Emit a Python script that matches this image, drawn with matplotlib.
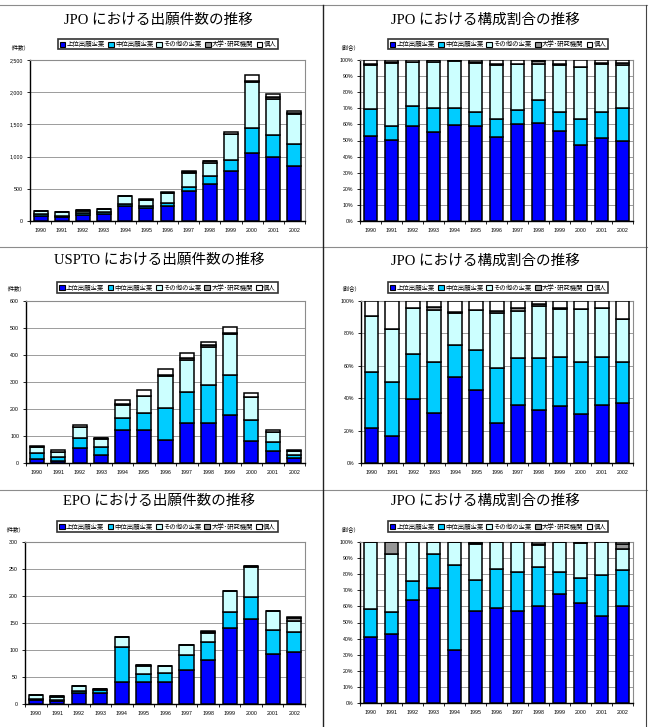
import matplotlib
matplotlib.use("Agg")
import matplotlib.pyplot as plt
import numpy as np
from matplotlib.patches import Patch
from matplotlib.lines import Line2D

plt.rcParams["font.family"] = ["Liberation Sans", "Noto Sans CJK JP"]

years = ["1990", "1991", "1992", "1993", "1994", "1995", "1996",
         "1997", "1998", "1999", "2000", "2001", "2002"]
series_names = ["上位出願企業", "中位出願企業", "その他の企業", "大学･研究機関", "個人"]
series_colors = ["#0000FF", "#00CCFF", "#CCFFFF", "#969696", "#FFFFFF"]

# JPO application counts
jpo_top = [85, 68, 98, 106, 228, 199, 233, 466, 568, 771, 1060, 1000, 850]
jpo_mid = [26, 12, 20, 28, 41, 29, 48, 68, 133, 171, 380, 335, 350]
jpo_other = [44, 53, 45, 56, 112, 101, 150, 216, 206, 405, 720, 555, 455]
jpo_univ = [1, 0, 1, 1, 1, 2, 2, 4, 17, 8, 12, 35, 25]
jpo_indiv = [4, 2, 2, 1, 1, 5, 12, 17, 8, 32, 95, 42, 33]

# JPO share (%)
jpo_top_pct = [53.0, 50.6, 59.0, 55.4, 59.4, 59.2, 52.3, 60.4, 61.0, 55.6, 47.1, 51.5, 49.8]
jpo_mid_pct = [16.4, 8.4, 12.2, 14.6, 10.8, 8.5, 10.8, 8.8, 14.2, 12.3, 16.4, 16.2, 20.4]
jpo_other_pct = [27.6, 39.0, 27.3, 29.0, 29.2, 30.2, 33.8, 28.1, 22.1, 29.2, 31.9, 29.6, 26.7]
jpo_univ_pct = [0.5, 0.5, 0.5, 0.7, 0.4, 0.6, 0.5, 0.5, 1.8, 0.6, 0.5, 1.0, 1.2]
jpo_indiv_pct = [2.5, 1.5, 1.0, 0.3, 0.2, 1.5, 2.6, 2.2, 0.9, 2.3, 4.1, 1.7, 1.9]

# USPTO application counts
us_top = [14, 8, 55, 29, 124, 121, 86, 148, 148, 176, 80, 43, 18]
us_mid = [22, 16, 38, 30, 42, 66, 116, 114, 142, 149, 80, 35, 12]
us_other = [22, 16, 40, 30, 47, 63, 121, 120, 141, 152, 86, 37, 14]
us_univ = [0, 0, 0, 2, 6, 0, 3, 7, 5, 3, 0, 0, 0]
us_indiv = [6, 9, 6, 3, 14, 20, 23, 18, 11, 23, 13, 6, 5]

# USPTO share (%)
us_top_pct = [21.6, 16.9, 39.2, 30.7, 53.2, 44.9, 24.7, 35.7, 32.6, 35.1, 30.5, 35.5, 37.1]
us_mid_pct = [34.3, 33.0, 28.0, 31.8, 19.6, 24.8, 34.1, 29.2, 32.3, 30.3, 31.6, 29.7, 25.4]
us_other_pct = [34.8, 32.8, 28.3, 31.9, 19.6, 24.5, 34.0, 29.1, 32.2, 29.9, 33.2, 30.3, 26.2]
us_univ_pct = [0, 0, 0, 2.1, 0.8, 0, 1.2, 1.5, 0.8, 0.4, 0, 0, 0]
us_indiv_pct = [9.3, 17.3, 4.5, 3.5, 6.8, 5.8, 6.0, 4.5, 2.1, 4.3, 4.7, 4.5, 11.3]

# EPO application counts
ep_top = [7, 6, 21, 20, 41, 41, 41, 63, 81, 141, 158, 93, 97]
ep_mid = [3, 2, 4, 6, 65, 14, 17, 27, 33, 29, 41, 44, 37]
ep_other = [7, 5, 8, 2, 18, 16, 12, 20, 18, 39, 54, 35, 20]
ep_univ = [0, 1, 0, 0, 0, 1, 0, 0, 1, 0, 2, 0, 5]
ep_indiv = [0, 0, 0, 0, 0, 0, 0, 0, 2, 0, 0, 0, 2]

# EPO share (%)
ep_top_pct = [40.8, 42.9, 63.9, 71.5, 33.0, 57.1, 58.8, 57.1, 60.0, 67.4, 61.9, 54.0, 60.0]
ep_mid_pct = [17.3, 13.8, 12.0, 21.3, 52.6, 19.6, 24.3, 24.5, 24.7, 14.0, 16.0, 25.4, 22.9]
ep_other_pct = [41.9, 36.1, 24.1, 7.2, 14.4, 22.3, 16.9, 18.4, 13.3, 18.6, 21.5, 20.6, 12.6]
ep_univ_pct = [0, 7.2, 0, 0, 0, 0.6, 0, 0, 1.0, 0, 0.6, 0, 3.5]
ep_indiv_pct = [0, 0, 0, 0, 0, 0.4, 0, 0, 1.0, 0, 0, 0, 1.0]

W, H = 655, 727
fig = plt.figure(figsize=(W / 100, H / 100), dpi=100)


def px_axes(x0, y0, x1, y1):
    return fig.add_axes([x0 / W, 1 - y1 / H, (x1 - x0) / W, (y1 - y0) / H])


def draw_panel(box, title, title_xy, legend_box, unit, series, ymax, ystep, pct):
    ax = px_axes(*box)
    x = np.arange(len(years))
    bottom = np.zeros(len(years))
    for vals, color in zip(series, series_colors):
        ax.bar(x, vals, 0.66, bottom=bottom, color=color,
               edgecolor="black", linewidth=1.1, zorder=3)
        bottom += np.array(vals, dtype=float)
    ax.set_xlim(-0.5, len(years) - 0.5)
    ax.set_ylim(0, ymax)
    ticks = np.arange(0, ymax + ystep / 2, ystep)
    ax.set_yticks(ticks)
    if pct:
        ax.set_yticklabels([f"{int(t)}%" for t in ticks])
    else:
        ax.set_yticklabels([f"{int(t):,}" for t in ticks])
    ax.set_xticks(x)
    ax.set_xticklabels(years)
    ax.set_xticks(np.arange(-0.5, len(years)), minor=True)
    ax.tick_params(axis="x", which="major", length=0, labelsize=3.8, pad=5)
    ax.tick_params(axis="x", which="minor", length=2, width=0.6, direction="out")
    ax.tick_params(axis="y", length=2, width=0.6, labelsize=3.8, pad=3)
    ax.grid(axis="y", color="#8c8c8c", linewidth=0.6, zorder=0)
    for s in ["top", "right"]:
        ax.spines[s].set_color("#8c8c8c")
        ax.spines[s].set_linewidth(0.8)
    for s in ["left", "bottom"]:
        ax.spines[s].set_color("black")
        ax.spines[s].set_linewidth(1.0)

    fig.text(title_xy[0] / W, 1 - title_xy[1] / H, title, ha="center", va="center",
             fontsize=10.5, family=["Liberation Serif", "Noto Sans CJK JP"])
    fig.text((box[0] - 12) / W, 1 - (box[1] - 13) / H,
             unit, ha="center", va="center", fontsize=4.0)

    handles = [Patch(facecolor=c, edgecolor="black", linewidth=0.8) for c in series_colors]
    lx0, ly0, lx1, ly1 = legend_box
    leg = fig.legend(handles, series_names, loc="center",
                     bbox_to_anchor=((lx0 + lx1) / 2 / W, 1 - (ly0 + ly1) / 2 / H),
                     ncol=5, fontsize=4.6, frameon=True, fancybox=False,
                     handlelength=0.9, handleheight=0.9, handletextpad=0.2,
                     columnspacing=0.5, borderpad=0.25, borderaxespad=0)
    leg.get_frame().set_edgecolor("black")
    leg.get_frame().set_linewidth(1.2)
    return ax


panels = [
    ((30, 60, 305, 221), "JPO における出願件数の推移", (158, 20), (58, 39, 278, 49), "（件数）",
     [jpo_top, jpo_mid, jpo_other, jpo_univ, jpo_indiv], 2500, 500, False),
    ((360, 60, 633, 221), "JPO における構成割合の推移", (485, 20), (388, 39, 608, 49), "（割合）",
     [jpo_top_pct, jpo_mid_pct, jpo_other_pct, jpo_univ_pct, jpo_indiv_pct], 100, 10, True),
    ((26, 301, 305, 463), "USPTO における出願件数の推移", (159, 260), (58, 283, 277, 292), "（件数）",
     [us_top, us_mid, us_other, us_univ, us_indiv], 600, 100, False),
    ((361, 301, 633, 463), "JPO における構成割合の推移", (485, 261), (388, 283, 608, 292), "（割合）",
     [us_top_pct, us_mid_pct, us_other_pct, us_univ_pct, us_indiv_pct], 100, 20, True),
    ((25, 542, 305, 704), "EPO における出願件数の推移", (159, 501), (58, 522, 277, 531), "（件数）",
     [ep_top, ep_mid, ep_other, ep_univ, ep_indiv], 300, 50, False),
    ((360, 542, 633, 703), "JPO における構成割合の推移", (485, 501), (388, 522, 608, 531), "（割合）",
     [ep_top_pct, ep_mid_pct, ep_other_pct, ep_univ_pct, ep_indiv_pct], 100, 10, True),
]

for p in panels:
    draw_panel(*p)


# table lines around the panels
def hline(y, x0, x1, color, lw):
    fig.add_artist(Line2D([x0 / W, x1 / W], [1 - y / H, 1 - y / H], color=color, linewidth=lw))


def vline(x, y0, y1, color, lw):
    fig.add_artist(Line2D([x / W, x / W], [1 - y0 / H, 1 - y1 / H], color=color, linewidth=lw))


hline(5, 0, 647, "#8c8c8c", 0.8)
hline(247, 0, 647, "#8c8c8c", 0.8)
hline(490, 0, 647, "#8c8c8c", 0.8)
vline(323, 5, 727, "#222222", 1.0)
vline(646, 5, 727, "#444444", 0.8)

fig.savefig("out.png", dpi=100)
